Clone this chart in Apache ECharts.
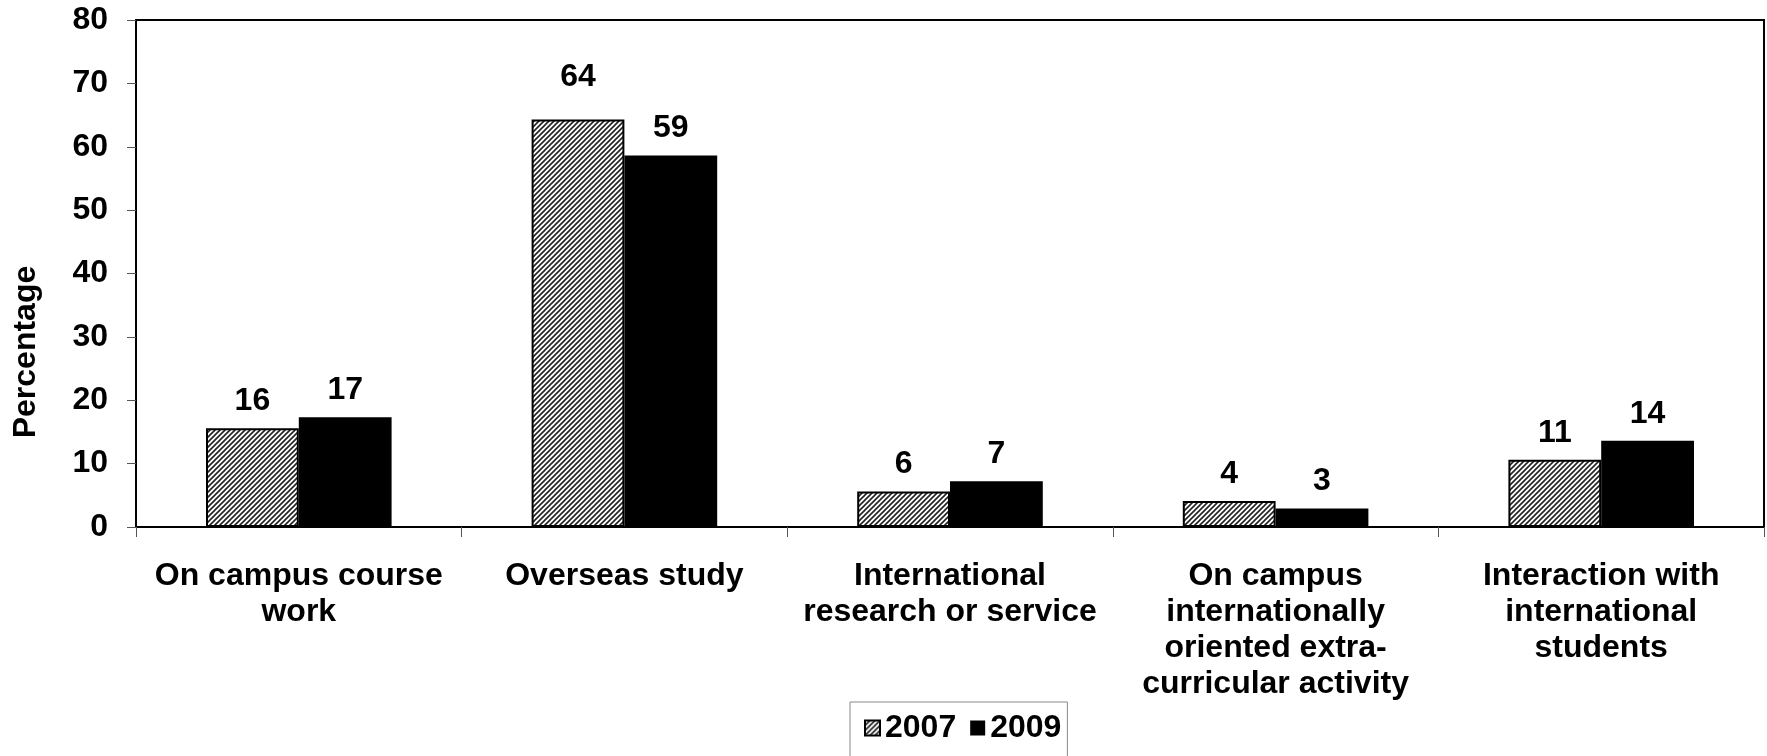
<!DOCTYPE html>
<html>
<head>
<meta charset="utf-8">
<title>International experience</title>
<script src="https://cdn.jsdelivr.net/npm/echarts@6/dist/echarts.min.js"></script>
<style>
  html, body { margin: 0; padding: 0; background: #fff; }
  #chart { width: 1767px; height: 756px; }
</style>
</head>
<body>
<div id="chart"></div>
<script>
// data
const categories = [
  'On campus course\nwork',
  'Overseas study',
  'International\nresearch or service',
  'On campus\ninternationally\noriented extra-\ncurricular activity',
  'Interaction with\ninternational\nstudents'
];
const seriesNames = ['2007', '2009'];
const values2007 = [15.6, 64.3, 5.6, 4.1, 10.6];
const values2009 = [17.3, 58.6, 7.2, 2.9, 13.6];
const yTicks = [0, 10, 20, 30, 40, 50, 60, 70, 80];

const font = '"Liberation Sans", Arial, sans-serif';
const fs = 32;

// diagonal hatch used for 2007 bars
const hatch = document.createElement('canvas');
hatch.width = 5;
hatch.height = 5;
const hctx = hatch.getContext('2d');
hctx.fillStyle = '#fff';
hctx.fillRect(0, 0, 5, 5);
hctx.strokeStyle = '#222';
hctx.lineWidth = 1.6;
[[-1, 1, 1, -1], [-1, 6, 6, -1], [4, 6, 6, 4]].forEach(l => {
  hctx.beginPath();
  hctx.moveTo(l[0], l[1]);
  hctx.lineTo(l[2], l[3]);
  hctx.stroke();
});

const chart = echarts.init(document.getElementById('chart'));

const labelStyle = {
  show: true,
  position: 'top',
  distance: 11,
  fontFamily: font,
  fontSize: fs,
  fontWeight: 'bold',
  color: '#000',
  formatter: p => Math.round(p.value)
};

const option = {
  animation: false,
  backgroundColor: '#fff',
  textStyle: { fontFamily: font },
  grid: {
    left: 136, right: 3, top: 20, bottom: 229,
    show: true, borderColor: '#000', borderWidth: 2
  },
  legend: {
    data: [
      { name: seriesNames[0], itemStyle: { borderColor: '#000', borderWidth: 2 } },
      { name: seriesNames[1] }
    ],
    left: 850,
    top: 702,
    icon: 'rect',
    itemWidth: 15,
    itemHeight: 15,
    itemGap: 14,
    padding: [10, 6, 14, 14],
    borderColor: '#888',
    borderWidth: 1,
    textStyle: { fontFamily: font, fontSize: fs, fontWeight: 'bold', color: '#000' }
  },
  xAxis: {
    type: 'category',
    data: categories,
    axisLine: { lineStyle: { color: '#000', width: 2 } },
    axisTick: { show: true, length: 10, lineStyle: { color: '#555', width: 1 } },
    axisLabel: {
      interval: 0,
      margin: 31,
      fontFamily: font,
      fontSize: fs,
      fontWeight: 'bold',
      lineHeight: 36,
      color: '#000'
    }
  },
  yAxis: {
    type: 'value',
    min: yTicks[0],
    max: yTicks[yTicks.length - 1],
    interval: yTicks[1] - yTicks[0],
    splitLine: { show: false },
    axisLine: { show: true, lineStyle: { color: '#000', width: 2 } },
    axisTick: { show: true, length: 9, lineStyle: { color: '#555', width: 1 } },
    axisLabel: {
      margin: 28,
      fontFamily: font,
      fontSize: fs,
      fontWeight: 'bold',
      color: '#000'
    }
  },
  graphic: [{
    type: 'text',
    x: 26,
    y: 352,
    rotation: Math.PI / 2,
    style: {
      text: 'Percentage',
      font: 'bold ' + fs + 'px ' + font,
      fill: '#000',
      align: 'center',
      verticalAlign: 'middle'
    }
  }],
  series: [
    {
      name: seriesNames[0],
      type: 'bar',
      barGap: '0%',
      barCategoryGap: '43%',
      itemStyle: {
        color: { image: hatch, repeat: 'repeat' },
        borderColor: '#000',
        borderWidth: 2
      },
      label: labelStyle,
      // the 64 label sits a bit higher in the original
      data: values2007.map(v => v > 60 ? { value: v, label: { distance: 26 } } : v)
    },
    {
      name: seriesNames[1],
      type: 'bar',
      barGap: '0%',
      barCategoryGap: '43%',
      itemStyle: { color: '#000' },
      label: labelStyle,
      data: values2009
    }
  ]
};

chart.setOption(option);
window.addEventListener('resize', () => chart.resize());
</script>
</body>
</html>
